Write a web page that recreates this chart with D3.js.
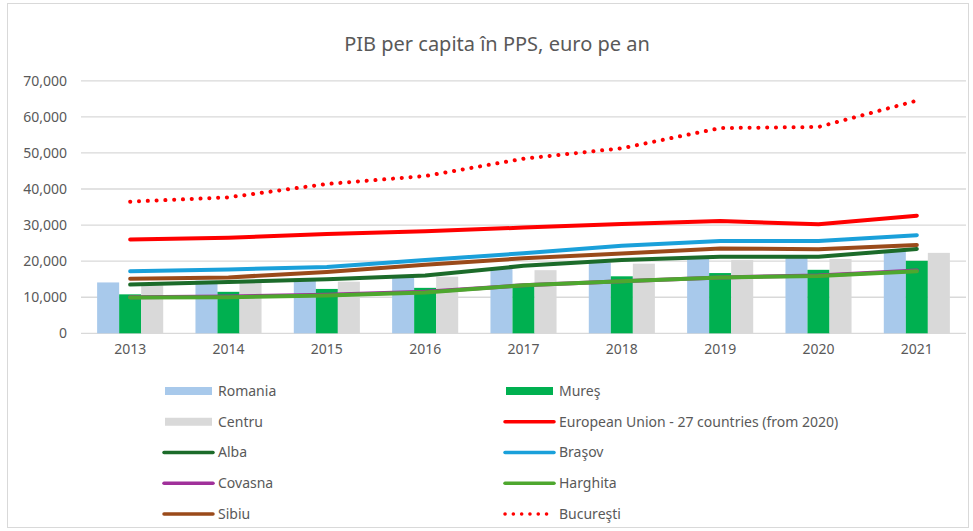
<!DOCTYPE html>
<html><head><meta charset="utf-8">
<script src="https://cdn.jsdelivr.net/npm/d3@7"></script>
<style>
html,body{margin:0;padding:0;background:#fff;}
text{font-family:"Noto Sans","Open Sans",sans-serif;fill:#595959;}
</style></head>
<body>
<svg id="chart" width="973" height="531"></svg>
<script>
const years = ["2013","2014","2015","2016","2017","2018","2019","2020","2021"];
const yTicks = [0,10000,20000,30000,40000,50000,60000,70000];

const romania = [14100,14600,15200,15800,18000,19600,20700,21000,23000];
const mures   = [10800,11500,12300,12600,13700,15800,16700,17600,20100];
const centru  = [13300,14000,14300,15700,17500,19300,20300,20600,22300];

const eu27     = [26000,26500,27500,28300,29300,30300,31100,30200,32600];
const alba     = [13500,14200,15000,16000,18700,20300,21200,21200,23400];
const brasov   = [17200,17700,18400,20300,22200,24300,25600,25600,27200];
const covasna  = [10000,10200,10700,11500,13300,14400,15500,16000,17400];
const harghita = [9900,10000,10500,11300,13300,14400,15500,15900,17200];
const sibiu    = [15100,15500,17000,19000,20800,22100,23500,23300,24500];
const bucuresti= [36500,37700,41400,43600,48400,51300,56900,57200,64500];

const barSeries = [
  {name:"Romania", values:romania, color:"#a8c9eb"},
  {name:"Mureş", values:mures, color:"#00b050"},
  {name:"Centru", values:centru, color:"#d9d9d9"}
];
const lineSeries = [
  {name:"European Union - 27 countries (from 2020)", values:eu27, color:"#ff0000"},
  {name:"Alba", values:alba, color:"#1c6b2a"},
  {name:"Braşov", values:brasov, color:"#1aa0da"},
  {name:"Covasna", values:covasna, color:"#a0309a"},
  {name:"Harghita", values:harghita, color:"#4ea72e"},
  {name:"Sibiu", values:sibiu, color:"#9a4a1a"},
  {name:"Bucureşti", values:bucuresti, color:"#ff0000", dotted:true}
];

const svg = d3.select("#chart");

// outer border
svg.append("rect").attr("x",7.5).attr("y",3.5).attr("width",961).attr("height",524)
  .attr("fill","none").attr("stroke","#d9d9d9").attr("stroke-width",1);

// title
svg.append("text").attr("x",497).attr("y",51).attr("text-anchor","middle")
  .style("font-size","20px").text("PIB per capita în PPS, euro pe an");

const x0 = d3.scaleBand().domain(years).range([81,966]).padding(0);
const bw = x0.bandwidth();
const x1 = d3.scaleBand().domain(barSeries.map(d=>d.name)).range([bw*0.164, bw*0.836]).padding(0);
const y = d3.scaleLinear().domain([0,70000]).range([333.3,80.8]);

// gridlines
svg.append("g").selectAll("line").data(yTicks).join("line")
  .attr("x1",81).attr("x2",966)
  .attr("y1",d=>y(d)).attr("y2",d=>y(d))
  .attr("stroke","#d9d9d9").attr("stroke-width",1.3);

// y axis labels
const yAxis = d3.axisLeft(y).tickValues(yTicks).tickFormat(d3.format(",")).tickSize(0).tickPadding(0);
const gy = svg.append("g").attr("transform","translate(67,0)").call(yAxis);
gy.select(".domain").remove();
gy.selectAll("text").style("font-size","14px").style("font-family","'Noto Sans',sans-serif").attr("fill","#595959");

// x axis labels
const xAxis = d3.axisBottom(x0).tickSize(0).tickPadding(0);
const gx = svg.append("g").attr("transform","translate(0,344)").call(xAxis);
gx.select(".domain").remove();
gx.selectAll("text").style("font-size","14px").style("font-family","'Noto Sans',sans-serif").attr("fill","#595959");

// bars
barSeries.forEach(s=>{
  svg.append("g").selectAll("rect").data(s.values).join("rect")
    .attr("x",(d,i)=>x0(years[i])+x1(s.name))
    .attr("width",x1.bandwidth())
    .attr("y",d=>y(d))
    .attr("height",d=>y(0)-y(d))
    .attr("fill",s.color);
});

// lines
const line = d3.line().x((d,i)=>x0(years[i])+bw/2).y(d=>y(d));
lineSeries.forEach(s=>{
  const p = svg.append("path").datum(s.values).attr("d",line)
    .attr("fill","none").attr("stroke",s.color).attr("stroke-width",4)
    .attr("stroke-linecap","round").attr("stroke-linejoin","round");
  if(s.dotted) p.attr("stroke-dasharray","0.1 8.7");
});

// legend
const legendItems = [
  {s:barSeries[0], col:0,row:0,bar:true},
  {s:barSeries[1], col:1,row:0,bar:true},
  {s:barSeries[2], col:0,row:1,bar:true},
  {s:lineSeries[0], col:1,row:1},
  {s:lineSeries[1], col:0,row:2},
  {s:lineSeries[2], col:1,row:2},
  {s:lineSeries[3], col:0,row:3},
  {s:lineSeries[4], col:1,row:3},
  {s:lineSeries[5], col:0,row:4},
  {s:lineSeries[6], col:1,row:4}
];
const colX = [163, 504];
const rowY = d3.scalePoint().domain([0,1,2,3,4]).range([391,514]);
const lg = svg.append("g");
legendItems.forEach(it=>{
  const cx = colX[it.col], cy = rowY(it.row);
  if(it.bar){
    lg.append("rect").attr("x",cx+2).attr("y",cy-4).attr("width",47).attr("height",8).attr("fill",it.s.color);
  } else {
    const l = lg.append("line").attr("x1",cx+1).attr("x2",cx+50).attr("y1",cy).attr("y2",cy)
      .attr("stroke",it.s.color).attr("stroke-width",3.5).attr("stroke-linecap","round");
    if(it.s.dotted) l.attr("stroke-dasharray","0.1 8.2").attr("stroke-width",3.5);
  }
  lg.append("text").attr("x",cx+55).attr("y",cy).attr("dy","0.35em").style("font-size","14px").text(it.s.name);
});
</script>
</body></html>
